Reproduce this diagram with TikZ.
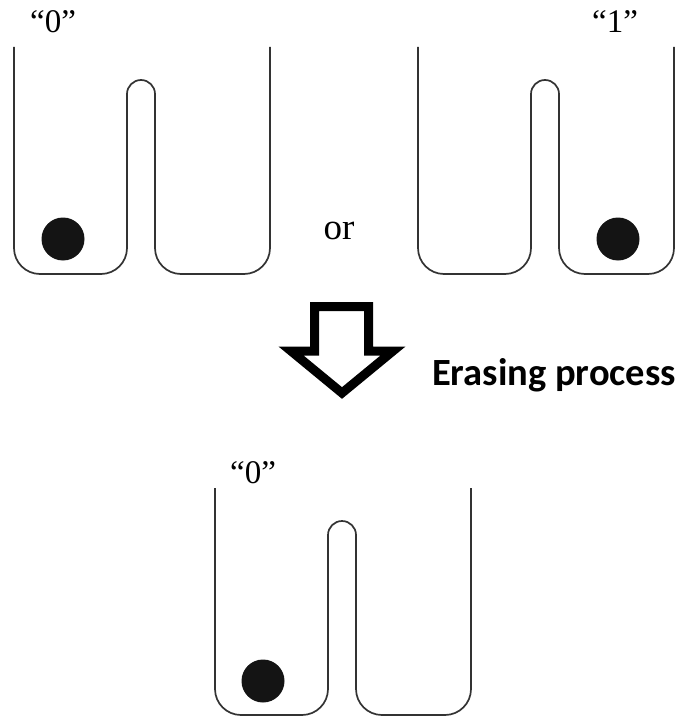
\documentclass[tikz,border=0pt]{standalone}
\usepackage{fontspec}
\setmainfont{Liberation Serif}
\newfontfamily\labelsans{Carlito}
\begin{document}
\begin{tikzpicture}[x=1pt,y=-1pt,
  wall/.style={line width=1.7pt,draw=black!80,line join=round},
  ball/.style={circle,fill=black!92,inner sep=0pt,minimum size=43pt},
  statelabel/.style={font=\fontsize{33}{33}\selectfont,inner sep=0pt,anchor=base},
  bigarrow/.style={line width=9pt,draw=black,fill=white,line join=miter},
  caption/.style={font=\labelsans\bfseries\fontsize{38.5}{38.5}\selectfont,inner sep=0pt,anchor=base west}]
\useasboundingbox (0,0) rectangle (676,722);

% double well: left wall x=#1, top y=#2
\newcommand\doublewell[2]{%
  \draw[wall] (#1,#2) -- (#1+0,#2+201)
    arc[start angle=180,end angle=90,radius=26] -- (#1+87,#2+227)
    arc[start angle=90,end angle=0,radius=26] -- (#1+113,#2+47)
    arc[start angle=180,end angle=360,radius=14] -- (#1+141,#2+201)
    arc[start angle=180,end angle=90,radius=26] -- (#1+230,#2+227)
    arc[start angle=90,end angle=0,radius=26] -- (#1+256,#2);}

% upper pair of states
\doublewell{14}{47}
\doublewell{418}{47}
\node[ball] (b0) at (63,239) {};
\node[ball] (b1) at (618,239) {};
\node[statelabel] (l0) at (53,33) {“0”};
\node[statelabel] (l1) at (615,33) {“1”};
\node[statelabel,font=\fontsize{37}{37}\selectfont] (or) at (339,239) {or};

% erasing arrow
\draw[bigarrow] (314.5,306.5) -- (368.5,306.5) -- (368.5,351) -- (393,351)
  -- (342,393) -- (291,351) -- (314.5,351) -- cycle;
\node[caption] (erase) at (432,385) {Erasing process};

% erased state
\doublewell{215}{488}
\node[ball] (b2) at (263,681) {};
\node[statelabel] (l2) at (253,483) {“0”};
\end{tikzpicture}
\end{document}
